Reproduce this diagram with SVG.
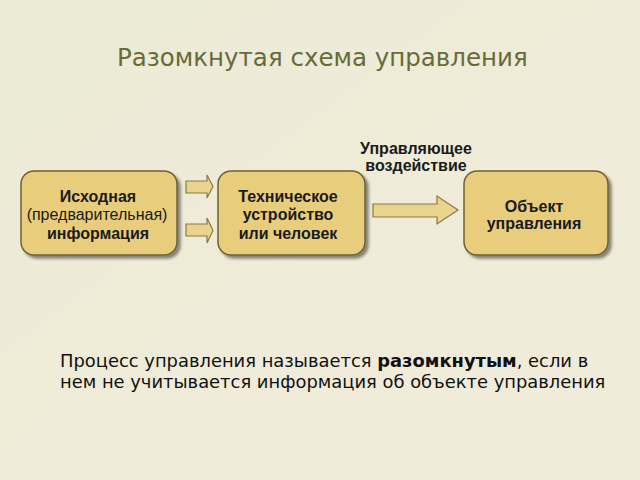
<svg xmlns="http://www.w3.org/2000/svg" width="640" height="480" viewBox="0 0 640 480">
<defs>
<style>
.node{fill:#e8cd7c;stroke:#6f5f33;stroke-width:1.5}
.arr{fill:#ead38c;stroke:#8a7845;stroke-width:1.2}
.nb{font-family:"Liberation Sans",Arial,sans-serif;font-weight:bold;font-size:16px;fill:#1a1a1a;text-anchor:middle}
.nr{font-family:"Liberation Sans",Arial,sans-serif;font-size:16px;fill:#1a1a1a;text-anchor:middle}
.title{font-family:"DejaVu Sans",sans-serif;font-size:24.5px;fill:#676b3a}
.body{font-family:"DejaVu Sans",sans-serif;font-size:17.9px;fill:#111}
</style>
<filter id="sh" x="-10%" y="-10%" width="130%" height="130%">
<feGaussianBlur in="SourceAlpha" stdDeviation="1.5"/>
<feOffset dx="3" dy="3" result="b"/>
<feComponentTransfer><feFuncA type="linear" slope="0.45"/></feComponentTransfer>
<feMerge><feMergeNode/><feMergeNode in="SourceGraphic"/></feMerge>
</filter>
<linearGradient id="bg" x1="0" y1="0" x2="1" y2="1">
<stop offset="0" stop-color="#ecebd6"/>
<stop offset="1" stop-color="#f1ecda"/>
</linearGradient>
</defs>
<rect width="640" height="480" fill="url(#bg)"/>
<text class="title" x="117" y="66">Разомкнутая схема управления</text>

<g id="connectors">
<path class="arr" d="M186,181 H207 V175 L213,186.5 L207,198 V193 H186 Z"/>
<path class="arr" d="M186,224 H207 V218 L213,230.5 L207,243 V236 H186 Z"/>
<path class="arr" d="M373,204 H437 V196 L458,210 L437,224 V217 H373 Z"/>
<text class="nb" x="416" y="154">Управляющее</text>
<text class="nb" x="416" y="171">воздействие</text>
</g>

<g id="node-info">
<rect class="node" filter="url(#sh)" x="21" y="171" width="156" height="84" rx="13"/>
<text class="nb" x="98" y="202">Исходная</text>
<text class="nr" x="97" y="220">(предварительная)</text>
<text class="nb" x="98" y="239">информация</text>
</g>

<g id="node-device">
<rect class="node" filter="url(#sh)" x="218" y="171" width="147" height="84" rx="13"/>
<text class="nb" x="288" y="202">Техническое</text>
<text class="nb" x="288" y="220">устройство</text>
<text class="nb" x="288" y="239">или человек</text>
</g>

<g id="node-object">
<rect class="node" filter="url(#sh)" x="464" y="171" width="144" height="84" rx="13"/>
<text class="nb" x="534" y="212">Объект</text>
<text class="nb" x="534" y="229">управления</text>
</g>

<text class="body" x="60" y="367">Процесс управления называется <tspan font-weight="bold">разомкнутым</tspan>, если в</text>
<text class="body" x="60" y="388">нем не учитывается информация об объекте управления</text>
</svg>
